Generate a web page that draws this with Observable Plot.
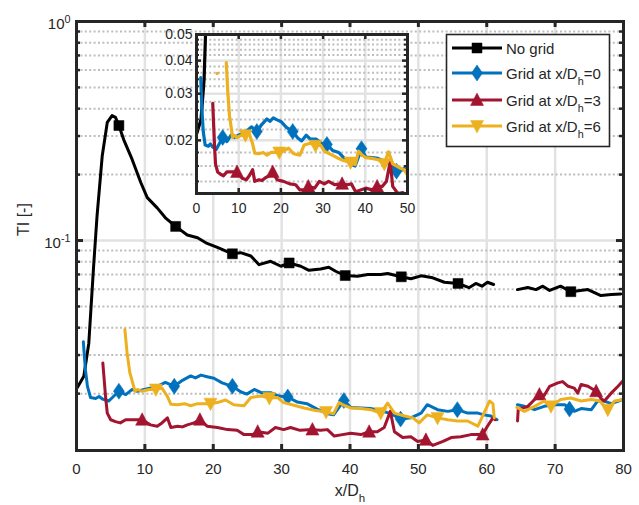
<!DOCTYPE html>
<html><head><meta charset="utf-8">
<script src="https://cdn.jsdelivr.net/npm/d3@7"></script>
<script src="https://cdn.jsdelivr.net/npm/@observablehq/plot@0.6"></script>
<style>
body{margin:0;background:#fff;}
#wrap{position:relative;width:639px;height:505px;overflow:hidden;background:#fff;}
#wrap svg{position:absolute;}
</style></head><body><div id="wrap"></div>
<script>
// ---------- ticks ----------
const xTicks = [0, 10, 20, 30, 40, 50, 60, 70, 80];
const yMajor = [1, 0.1];
const yTickLabels = ["10^{0}", "10^{-1}"];
const yMinor = [0.02, 0.03, 0.04, 0.05, 0.06, 0.07, 0.08, 0.09, 0.2, 0.3, 0.4, 0.5, 0.6, 0.7, 0.8, 0.9];
const insetXTicks = [0, 10, 20, 30, 40, 50];
const insetYMajor = [0.02, 0.03, 0.04, 0.05];
const insetYLabels = ["0.02", "0.03", "0.04", "0.05"];
const insetYMinor = [0.014, 0.016, 0.018, 0.022, 0.024, 0.026, 0.028, 0.032, 0.034, 0.036, 0.038, 0.042, 0.044, 0.046, 0.048];
const seriesNames = ["No grid", "Grid at x/D_{h}=0", "Grid at x/D_{h}=3", "Grid at x/D_{h}=6"];
const seriesColors = ["#000000", "#0072BD", "#A2142F", "#EDB120"];

// ---------- data (NaN = gap) ----------
const noGridX = [0.1,1.07,1.8,2.5,3.0,3.76,4.5,5.2,5.7,6.2,6.9,8.15,9.4,10.35,11.8,13.0,14.5,16.2,17.7,19.1,20.6,22.8,24.0,25.5,26.7,28.4,29.9,31.1,32.8,34.0,35.7,36.9,37.9,39.3,41.1,42.6,44.5,45.5,47.5,48.9,50.4,52.1,53.8,55.8,57.4,58.4,59.3,60.1,61.0,63,64.5,66.0,67.2,68.2,69.2,70.8,72.3,74.8,76.7,78.2,79.6];
const noGridY = [0.0213,0.024,0.034,0.076,0.129,0.243,0.346,0.372,0.365,0.335,0.289,0.234,0.184,0.157,0.141,0.127,0.116,0.106,0.103,0.097,0.093,0.087,0.088,0.085,0.0776,0.0804,0.0763,0.079,0.0763,0.0731,0.0742,0.0755,0.0724,0.0692,0.0687,0.0699,0.0699,0.0707,0.0683,0.0669,0.069,0.0676,0.0645,0.0637,0.0609,0.0637,0.0619,0.0645,0.063,NaN,0.0597,0.061,0.0597,0.0619,0.0592,0.0619,0.0584,0.0597,0.0561,0.0567,0.057];
const noGridMarkX = [6.2,14.5,22.8,31.1,39.3,47.5,55.8,72.3];
const noGridMarkY = [0.335,0.116,0.087,0.079,0.0692,0.0683,0.0637,0.0584];

const grid0X = [1.0,1.3,1.6,2.05,2.8,3.3,3.8,4.7,5.4,6.2,7.2,8.15,8.9,9.9,10.9,11.8,13.0,14.3,15.5,16.7,17.4,18.2,19.1,20.1,21.3,22.8,24.0,24.9,26.0,27.0,28.4,29.6,30.9,32.3,33.7,35.2,36.7,37.6,39.1,40.1,41.6,43.0,44.5,46.0,47.4,48.9,50.4,51.3,52.8,54.3,55.7,57.2,58.7,59.6,60.6,61.5,63,64.5,65.5,67.0,68.4,69.9,71.4,72.8,73.8,75.3,76.2,77.2,78.2,79.9];
const grid0Y = [0.0345,0.0258,0.0216,0.0192,0.019,0.0194,0.0189,0.0185,0.0194,0.0205,0.0198,0.0209,0.0205,0.0209,0.0212,0.0216,0.0225,0.0216,0.0230,0.0241,0.0236,0.0243,0.0239,0.0235,0.0224,0.0216,0.0204,0.0199,0.0209,0.0202,0.0202,0.0195,0.0193,0.0183,0.0180,0.0170,0.0162,0.0160,0.0186,0.0173,0.0172,0.0171,0.0167,0.0162,0.0153,0.0155,0.0163,0.0178,0.0169,0.0166,0.0169,0.0163,0.0163,0.016,0.0158,0.0152,NaN,0.0178,0.0175,0.0169,0.0175,0.0178,0.0178,0.0166,0.0171,0.0169,0.0185,0.0185,0.018,0.0188];
const grid0MarkX = [6.2,14.3,22.8,30.9,39.1,47.4,55.7,72.1];
const grid0MarkY = [0.0205,0.0216,0.0216,0.0193,0.0186,0.0153,0.0169,0.0170];

const grid3X = [3.85,4.25,4.5,5.0,5.7,6.4,7.2,8.15,9.6,10.8,11.8,12.5,13.3,13.8,14.8,15.5,16.2,17.2,18.05,19.1,20.6,22.1,23.5,24.5,25.8,26.5,28.0,29.1,30.3,31.3,32.7,34.5,35.7,36.7,37.7,38.9,40.1,41.6,42.8,44.0,45.0,45.9,46.5,47.7,48.9,49.9,51.1,52.1,53.6,54.8,56.2,57.7,59.4,60.1,60.9,61.2,63,64.5,64.6,66.0,67.0,67.7,68.4,69.2,70.4,71.1,71.9,72.8,73.3,73.8,74.8,76.0,76.7,77.2,78.2,79.2,80.0];
const grid3Y = [0.0276,0.0194,0.0163,0.0152,0.0149,0.0147,0.0152,0.0152,0.0152,0.0144,0.0142,0.0147,0.0155,0.014,0.0142,0.0141,0.0144,0.0147,0.0152,0.0142,0.014,0.0137,0.0136,0.013,0.013,0.0134,0.0132,0.014,0.0137,0.014,0.0136,0.0137,0.0136,0.0137,0.0128,0.013,0.0132,0.013,0.0134,0.0134,0.014,0.0166,0.0134,0.0126,0.0127,0.0121,0.0123,0.0116,0.0121,0.0126,0.0127,0.013,0.013,0.0142,0.0155,0.0152,NaN,0.015,0.0169,0.0175,0.0188,0.0198,0.0196,0.0216,0.0224,0.0227,0.0216,0.0212,0.0201,0.022,0.0216,0.0205,0.019,0.0185,0.0201,0.0216,0.023];
const grid3MarkX = [9.6,18.05,26.5,34.5,42.8,51.1,59.4,67.7,76.0];
const grid3MarkY = [0.0152,0.0152,0.0134,0.0137,0.0134,0.0123,0.013,0.0198,0.0205];

const grid6X = [7.07,7.4,7.8,8.15,8.55,8.9,9.6,10.6,11.6,12.5,13.3,13.8,14.8,15.8,16.7,17.7,19.6,20.6,21.8,23.0,24.5,25.5,27.0,28.2,29.4,30.3,31.8,33.3,34.8,36.5,37.6,38.4,39.1,40.1,41.6,43.0,44.5,45.5,46.5,48.0,49.2,50.1,51.3,52.8,54.3,55.7,57.2,58.7,59.6,60.4,60.9,61.1,63,64.4,65.5,67.0,68.4,69.4,70.8,72.3,73.8,75.3,76.5,77.7,78.7,80.0];
const grid6Y = [0.0393,0.0307,0.0249,0.0228,0.0205,0.0209,0.0205,0.0209,0.0209,0.0212,0.0194,0.0179,0.0178,0.0180,0.0176,0.0180,0.0180,0.0182,0.0187,0.0178,0.0176,0.0192,0.0195,0.0191,0.0192,0.0182,0.0177,0.0172,0.0168,0.0165,0.0162,0.0182,0.0177,0.0172,0.0171,0.0169,0.0163,0.0181,0.0163,0.0158,0.0155,0.0147,0.016,0.0155,0.0152,0.015,0.015,0.0142,0.0163,0.0185,0.018,0.0155,NaN,0.0173,0.0166,0.0175,0.0185,0.0175,0.0188,0.0191,0.0185,0.0188,0.0185,0.0169,0.0185,0.0188];
const grid6MarkX = [11.6,19.6,28.2,36.5,44.5,52.8,69.4,77.7];
const grid6MarkY = [0.0209,0.0180,0.0191,0.0165,0.0163,0.0155,0.0175,0.0169];
const grid6DotX = [4.9];
const grid6DotY = [0.0358];

// ---------- helpers ----------
const rows = (xs, ys) => xs.map((x, i) => ({x, y: ys[i]}));
const sym = {
  square: {draw(c){c.moveTo(-5,-5);c.lineTo(5,-5);c.lineTo(5,5);c.lineTo(-5,5);c.closePath();}},
  diamond: {draw(c){c.moveTo(0,-8);c.lineTo(5.5,0);c.lineTo(0,8);c.lineTo(-5.5,0);c.closePath();}},
  triUp: {draw(c){c.moveTo(0,-7);c.lineTo(6.5,5.5);c.lineTo(-6.5,5.5);c.closePath();}},
  triDown: {draw(c){c.moveTo(0,7);c.lineTo(6.5,-5.5);c.lineTo(-6.5,-5.5);c.closePath();}}
};
const symbols = [sym.square, sym.diamond, sym.triUp, sym.triDown];
const lineData = [rows(noGridX, noGridY), rows(grid0X, grid0Y), rows(grid3X, grid3Y), rows(grid6X, grid6Y)];
const markData = [rows(noGridMarkX, noGridMarkY), rows(grid0MarkX, grid0MarkY), rows(grid3MarkX, grid3MarkY), rows(grid6MarkX, grid6MarkY)];
const AX = "#262626";
const FONT = "'Liberation Sans', Arial, Helvetica, sans-serif";

function seriesMarks(lw, clip) {
  const m = [];
  lineData.forEach((d, i) => {
    m.push(Plot.line(d, {x: "x", y: "y", stroke: seriesColors[i], strokeWidth: lw, strokeLinejoin: "round", clip}));
    m.push(Plot.dot(markData[i], {x: "x", y: "y", symbol: symbols[i], fill: seriesColors[i], stroke: seriesColors[i], strokeWidth: 0.5, clip}));
  });
  return m;
}

// ---------- main plot ----------
const W = 547, H = 429;
const main = Plot.plot({
  width: 639, height: 505,
  marginLeft: 76, marginRight: 16, marginTop: 21, marginBottom: 55,
  style: {fontFamily: FONT, fontSize: "15px", color: AX, background: "transparent", overflow: "visible"},
  x: {domain: [0, 80], axis: null},
  y: {type: "log", domain: [0.011, 1], axis: null},
  marks: [
    Plot.frame({fill: "white"}),
    Plot.ruleX(xTicks.slice(1, -1), {stroke: "#e2e2e2", strokeWidth: 2.5}),
    Plot.ruleY([0.1], {stroke: "#e2e2e2", strokeWidth: 2.5}),
    Plot.ruleY(yMinor, {stroke: "#bdbdbd", strokeWidth: 2, strokeDasharray: "2,2.4"}),
    ...seriesMarks(3, false),
    Plot.frame({stroke: AX, strokeWidth: 3}),
    Plot.ruleX(xTicks.slice(1, -1), {insetTop: H - 6, stroke: AX, strokeWidth: 3}),
    Plot.ruleX(xTicks.slice(1, -1), {insetBottom: H - 6, stroke: AX, strokeWidth: 3}),
    Plot.ruleY([0.1], {insetRight: W - 7, stroke: AX, strokeWidth: 3}),
    Plot.ruleY([0.1], {insetLeft: W - 7, stroke: AX, strokeWidth: 3}),
    Plot.ruleY(yMinor, {insetRight: W - 4, stroke: AX, strokeWidth: 2.5}),
    Plot.ruleY(yMinor, {insetLeft: W - 4, stroke: AX, strokeWidth: 2.5}),
    Plot.text(xTicks, {x: d => d, frameAnchor: "bottom", lineAnchor: "top", dy: 13, text: d => String(d), fill: AX}),
    Plot.text(yMajor, {y: d => d, frameAnchor: "left", textAnchor: "end", dx: -6, dy: 3, text: (d, i) => yTickLabels[i], fill: AX}),
    Plot.text(["TI [-]"], {frameAnchor: "left", dx: -53, rotate: -90, text: d => d, fill: AX, fontSize: 16}),
    Plot.text(["x/D_{h}"], {frameAnchor: "bottom", lineAnchor: "top", dy: 34, text: d => d, fill: AX, fontSize: 16})
  ]
});
main.style.left = "0px"; main.style.top = "0px";

// ---------- inset ----------
const iW = 211, iH = 159;
const inset = Plot.plot({
  width: 45 + iW + 6, height: 6 + iH + 24,
  marginLeft: 45, marginRight: 6, marginTop: 6, marginBottom: 24,
  style: {fontFamily: FONT, fontSize: "14px", color: AX, background: "transparent", overflow: "visible"},
  x: {domain: [0, 50], axis: null},
  y: {type: "log", domain: [0.0126, 0.0502], axis: null},
  marks: [
    Plot.frame({fill: "white"}),
    Plot.ruleX(insetXTicks.slice(1, -1), {stroke: "#e2e2e2", strokeWidth: 2.5}),
    Plot.ruleY(insetYMajor.slice(0, 3), {stroke: "#e2e2e2", strokeWidth: 2.5}),
    Plot.ruleY(insetYMinor, {stroke: "#bdbdbd", strokeWidth: 2, strokeDasharray: "2,2.4"}),
    ...seriesMarks(3.2, true),
    Plot.dot(rows(grid6DotX, grid6DotY), {x: "x", y: "y", r: 1.7, fill: seriesColors[3], clip: true}),
    Plot.frame({stroke: AX, strokeWidth: 3}),
    Plot.ruleX(insetXTicks.slice(1, -1), {insetTop: iH - 5, stroke: AX, strokeWidth: 2.5}),
    Plot.ruleX(insetXTicks.slice(1, -1), {insetBottom: iH - 5, stroke: AX, strokeWidth: 2.5}),
    Plot.ruleY(insetYMajor.slice(0, 3), {insetRight: iW - 5, stroke: AX, strokeWidth: 2.5}),
    Plot.ruleY(insetYMajor.slice(0, 3), {insetLeft: iW - 5, stroke: AX, strokeWidth: 2.5}),
    Plot.ruleY(insetYMinor, {insetRight: iW - 3, stroke: AX, strokeWidth: 2}),
    Plot.ruleY(insetYMinor, {insetLeft: iW - 3, stroke: AX, strokeWidth: 2}),
    Plot.text(insetXTicks, {x: d => d, frameAnchor: "bottom", lineAnchor: "top", dy: 10, text: d => String(d), fill: AX}),
    Plot.text(insetYMajor, {y: d => d, frameAnchor: "left", textAnchor: "end", dx: -4, text: (d, i) => insetYLabels[i], fill: AX})
  ]
});
inset.style.left = (196 - 45) + "px"; inset.style.top = (34 - 6) + "px";

// ---------- legend ----------
const legend = d3.create("svg").attr("width", 639).attr("height", 505)
  .style("left", "0px").style("top", "0px").style("font-family", FONT).style("font-size", "15px");
legend.append("rect").attr("x", 446.5).attr("y", 34.5).attr("width", 163).attr("height", 112)
  .attr("fill", "white").attr("stroke", AX).attr("stroke-width", 1.6);
const legY = [48, 73, 100, 126];
seriesNames.forEach((name, i) => {
  const g = legend.append("g");
  g.append("line").attr("x1", 452).attr("x2", 502).attr("y1", legY[i]).attr("y2", legY[i])
    .attr("stroke", seriesColors[i]).attr("stroke-width", 3);
  g.append("path").attr("d", d3.symbol(symbols[i])()).attr("transform", `translate(477,${legY[i]})`)
    .attr("fill", seriesColors[i]).attr("stroke", seriesColors[i]).attr("stroke-width", 0.5);
  g.append("text").attr("x", 506).attr("y", legY[i] + 5.5).attr("fill", AX).text(name);
});

const wrap = document.getElementById("wrap");
wrap.appendChild(main);
wrap.appendChild(inset);
wrap.appendChild(legend.node());

// ---------- rich text (super/subscripts) ----------
const NS = "http://www.w3.org/2000/svg";
wrap.querySelectorAll("text").forEach(t => {
  const s = t.textContent;
  if (!/[\^_]\{/.test(s)) return;
  const parts = [];
  const re = /([\^_])\{([^}]*)\}/g;
  let last = 0, m;
  while ((m = re.exec(s))) {
    if (m.index > last) parts.push({t: s.slice(last, m.index), k: 0});
    parts.push({t: m[2], k: m[1] === "^" ? -1 : 1});
    last = re.lastIndex;
  }
  if (last < s.length) parts.push({t: s.slice(last), k: 0});
  while (t.firstChild) t.removeChild(t.firstChild);
  let cur = 0;
  parts.forEach(p => {
    const ts = document.createElementNS(NS, "tspan");
    const target = p.k === -1 ? -6.5 : p.k === 1 ? 6 : 0;
    ts.setAttribute("dy", target - cur); cur = target;
    if (p.k) ts.setAttribute("font-size", "0.72em");
    ts.textContent = p.t;
    t.appendChild(ts);
  });
});
</script></body></html>
